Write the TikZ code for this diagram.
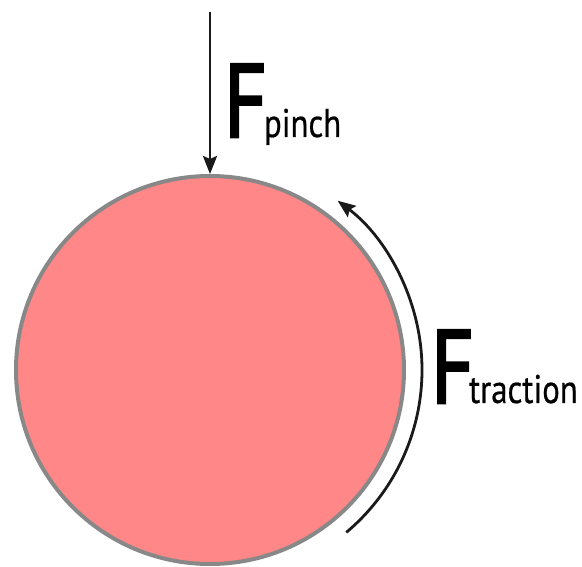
\documentclass[tikz,border=0pt]{standalone}
\usepackage{fontspec}
\usepackage{graphicx}
\setmainfont{PT Sans}
\newfontfamily\heavyF[FakeBold=2.5]{PT Sans}
\newfontfamily\subfont[FakeBold=0.6]{PT Sans}
\usetikzlibrary{arrows.meta}
\definecolor{ballfill}{RGB}{255,135,135}
\definecolor{ballrim}{RGB}{136,136,136}
\definecolor{arrowcol}{RGB}{26,26,26}
\newcommand\bigF{\scalebox{0.8}[1]{\heavyF\fontsize{104}{104}\selectfont F}}
\newcommand\subtxt[1]{\scalebox{0.82}[1]{\subfont\fontsize{40}{40}\selectfont #1}}
\tikzset{
  ball/.style={circle, draw=ballrim, fill=ballfill, line width=4pt, minimum size=388pt, inner sep=0pt},
  force/.style={draw=arrowcol, line width=2.8pt, -{Stealth[length=18pt,width=14pt,inset=3pt]}},
  flabel/.style={anchor=base west, inner sep=0pt, outer sep=0pt}
}
\begin{document}
\begin{tikzpicture}[x=1pt,y=1pt]
\useasboundingbox (0,0) rectangle (582,566);
\node[ball] (ball) at (210,196) {};
\coordinate (top) at (210,554);
\draw[force] (top) -- (ball.north);
\draw[force] ([shift={(-50:212pt)}]ball.center) arc[start angle=-50, end angle=53, radius=212pt];
\node[flabel] (pinchF) at (224,429) {\bigF};
\node[flabel] (pinch) at ([xshift=-3pt]pinchF.base east) {\subtxt{pinch}};
\node[flabel] (tractionF) at (431,163) {\bigF};
\node[flabel] (traction) at ([xshift=-5pt]tractionF.base east) {\subtxt{traction}};
\end{tikzpicture}
\end{document}
